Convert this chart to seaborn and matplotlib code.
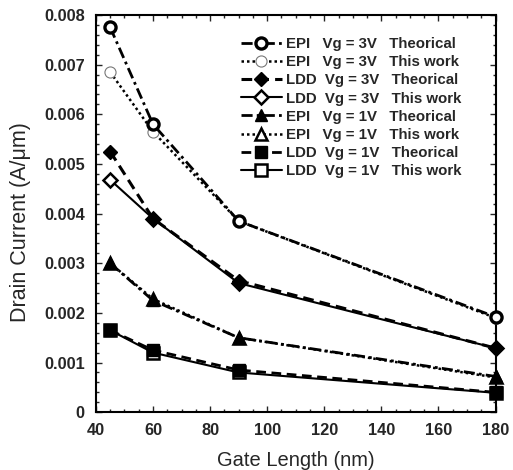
import matplotlib
matplotlib.use("Agg")
import matplotlib.pyplot as plt
from matplotlib.ticker import AutoMinorLocator, FixedLocator
import seaborn as sns
import pandas as pd

gate_length = [45, 60, 90, 180]
epi_3v_theo = [0.00775, 0.00580, 0.00385, 0.00192]
epi_3v_work = [0.00685, 0.00565, 0.00385, 0.00190]
ldd_3v_theo = [0.00525, 0.00390, 0.00265, 0.00129]
ldd_3v_work = [0.00468, 0.00390, 0.00260, 0.00129]
epi_1v_theo = [0.00300, 0.00225, 0.00150, 0.00072]
epi_1v_work = [0.00300, 0.00228, 0.00150, 0.00070]
ldd_1v_theo = [0.00165, 0.00125, 0.00085, 0.00040]
ldd_1v_work = [0.00165, 0.00120, 0.00080, 0.00039]

labels = [
    "EPI   Vg = 3V   Theorical",
    "EPI   Vg = 3V   This work",
    "LDD  Vg = 3V   Theorical",
    "LDD  Vg = 3V   This work",
    "EPI   Vg = 1V   Theorical",
    "EPI   Vg = 1V   This work",
    "LDD  Vg = 1V   Theorical",
    "LDD  Vg = 1V   This work",
]
series = [epi_3v_theo, epi_3v_work, ldd_3v_theo, ldd_3v_work,
          epi_1v_theo, epi_1v_work, ldd_1v_theo, ldd_1v_work]
y_ticks = [0, 0.001, 0.002, 0.003, 0.004, 0.005, 0.006, 0.007, 0.008]
y_tick_labels = ["0", "0.001", "0.002", "0.003", "0.004", "0.005", "0.006", "0.007", "0.008"]
x_ticks = [40, 60, 80, 100, 120, 140, 160, 180]

sns.set_style("ticks")
plt.rcParams['font.family'] = ['Liberation Sans', 'DejaVu Sans']
plt.rcParams['font.weight'] = 'bold'

styles = [
    dict(ls=(0, (4, 1.5, 1, 1.5)), marker='o', mfc='white', mec='black', mew=2.4, ms=8, lw=2.0, color='black'),
    dict(ls=(0, (1, 1.2)), marker='o', mfc='white', mec='#777777', mew=0.8, ms=8, lw=1.8, color='black'),
    dict(ls=(0, (3.5, 2)), marker='D', mfc='black', mec='black', mew=1, ms=7, lw=2.2, color='black'),
    dict(ls='-', marker='D', mfc='white', mec='black', mew=1.8, ms=7, lw=1.5, color='black'),
    dict(ls=(0, (4, 1.5, 1, 1.5)), marker='^', mfc='black', mec='black', mew=1, ms=9, lw=2.0, color='black'),
    dict(ls=(0, (1, 1.2)), marker='^', mfc='white', mec='black', mew=1.8, ms=9, lw=1.8, color='black'),
    dict(ls=(0, (3.5, 2)), marker='s', mfc='black', mec='black', mew=1, ms=8, lw=2.0, color='black'),
    dict(ls='-', marker='s', mfc='white', mec='black', mew=1.8, ms=8, lw=1.5, color='black'),
]

fig = plt.figure(figsize=(5.13, 4.70), dpi=100)
ax = fig.add_axes([0.187, 0.123, 0.779, 0.845])

handles = [None] * len(labels)
# draw "This work" first, theoretical on top
order = [1, 3, 5, 7, 0, 2, 4, 6]
for i in order:
    st = styles[i]
    df = pd.DataFrame({"x": gate_length, "y": series[i]})
    n_before = len(ax.lines)
    sns.lineplot(data=df, x="x", y="y", ax=ax, legend=False,
                 linestyle=st['ls'], marker=st['marker'], markerfacecolor=st['mfc'],
                 markeredgecolor=st['mec'], markeredgewidth=st['mew'], markersize=st['ms'],
                 linewidth=st['lw'], color=st['color'], clip_on=False, zorder=3 + (i % 2 == 0))
    handles[i] = ax.lines[n_before]

ax.set_xlim(40, 180)
ax.set_ylim(0, 0.008)
ax.xaxis.set_major_locator(FixedLocator(x_ticks))
ax.set_yticks(y_ticks)
ax.set_yticklabels(y_tick_labels)
ax.xaxis.set_minor_locator(AutoMinorLocator(4))
ax.yaxis.set_minor_locator(AutoMinorLocator(5))
ax.tick_params(which='both', direction='in', top=True, right=True, labelsize=11.8, width=1)
ax.tick_params(which='major', length=4)
ax.tick_params(which='minor', length=2)
ax.tick_params(axis='x', pad=8)
ax.tick_params(axis='y', pad=8)
for lbl in ax.get_xticklabels() + ax.get_yticklabels():
    lbl.set_fontweight('bold')
for sp in ax.spines.values():
    sp.set_linewidth(1.5)
    sp.set_color('black')

ax.set_xlabel("Gate Length (nm)", fontsize=14.5, fontweight='normal', labelpad=9)
ax.set_ylabel("Drain Current (A/\u03bcm)", fontsize=15.5, fontweight='normal')
ax.yaxis.set_label_coords(-0.163, 0.479)

leg = ax.legend(handles, labels, loc='upper right', frameon=False, fontsize=10.8,
                handlelength=2.7, handletextpad=0.3, labelspacing=0.28,
                borderaxespad=0.0, bbox_to_anchor=(0.93, 0.96))
for t in leg.get_texts():
    t.set_fontweight('bold')

fig.savefig("out.png", dpi=100)
